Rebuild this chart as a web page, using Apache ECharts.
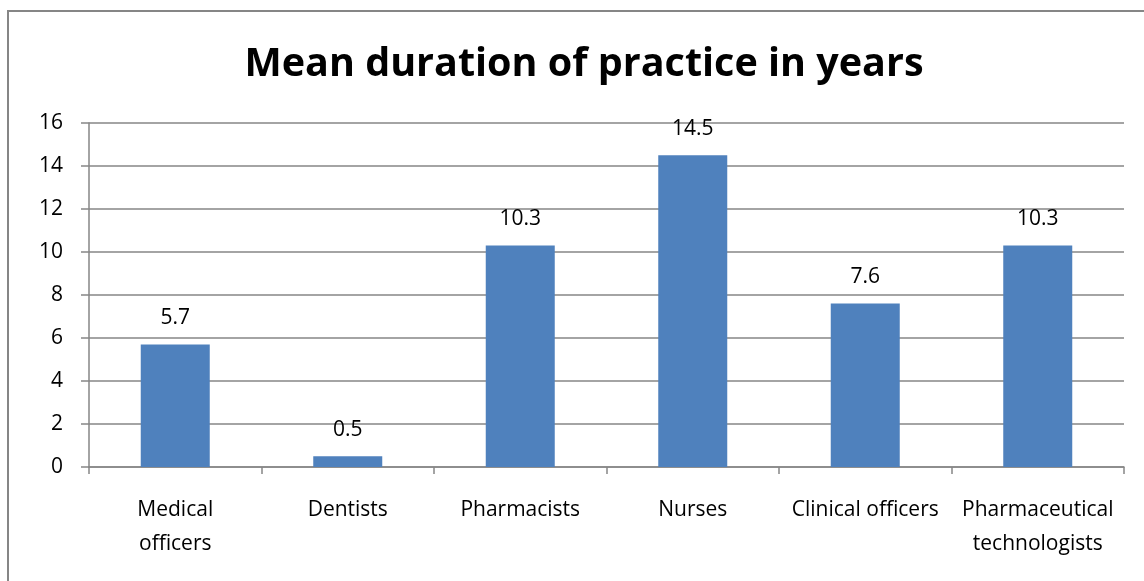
<!DOCTYPE html>
<html>
<head>
<meta charset="utf-8">
<script src="https://cdn.jsdelivr.net/npm/echarts@6/dist/echarts.min.js"></script>
<style>
  html, body { margin: 0; padding: 0; background: #fff; }
  #main { width: 1144px; height: 581px; }
</style>
</head>
<body>
<div id="main"></div>
<script>
var categories = ["Medical\nofficers", "Dentists", "Pharmacists", "Nurses", "Clinical officers", "Pharmaceutical\ntechnologists"];
var values = [5.7, 0.5, 10.3, 14.5, 7.6, 10.3];
var yTicks = [0, 2, 4, 6, 8, 10, 12, 14, 16];

var chartDom = document.getElementById("main");
var myChart = echarts.init(chartDom);
var fontFam = "'Open Sans', 'Noto Sans', sans-serif";
var option;

option = {
  animation: false,
  graphic: [
    {
      type: "rect",
      shape: { x: 8, y: 11, width: 1200, height: 620 },
      style: { fill: "none", stroke: "#868686", lineWidth: 2 },
      silent: true,
    },
  ],
  title: {
    text: "Mean duration of practice in years",
    left: 579,
    textAlign: "center",
    top: 40,
    textStyle: {
      fontFamily: fontFam,
      fontWeight: "bold",
      fontSize: 39.5,
      color: "#000",
    },
  },
  grid: {
    left: 89,
    right: 20,
    top: 123,
    bottom: 114,
  },
  xAxis: {
    type: "category",
    data: categories,
    axisLine: { lineStyle: { color: "#868686", width: 1.5 } },
    axisTick: { show: true, length: 7, lineStyle: { color: "#868686", width: 1.5 } },
    axisLabel: {
      interval: 0,
      margin: 26,
      fontFamily: fontFam,
      fontSize: 21,
      lineHeight: 34,
      color: "#000",
    },
  },
  yAxis: {
    type: "value",
    min: yTicks[0],
    max: yTicks[yTicks.length - 1],
    interval: 2,
    axisLine: { show: true, lineStyle: { color: "#868686", width: 1.5 } },
    axisTick: { show: true, length: 8, lineStyle: { color: "#868686", width: 1.5 } },
    splitLine: { lineStyle: { color: "#868686", width: 1.5 } },
    axisLabel: {
      margin: 26,
      fontFamily: fontFam,
      fontSize: 21,
      color: "#000",
    },
  },
  series: [
    {
      type: "bar",
      data: values,
      barWidth: "40%",
      itemStyle: { color: "#4F81BD" },
      label: {
        show: true,
        position: "top",
        distance: 16,
        fontFamily: fontFam,
        fontSize: 21,
        color: "#000",
      },
    },
  ],
};

option && myChart.setOption(option);
window.addEventListener("resize", function () {
  myChart.resize();
});
</script>
</body>
</html>
